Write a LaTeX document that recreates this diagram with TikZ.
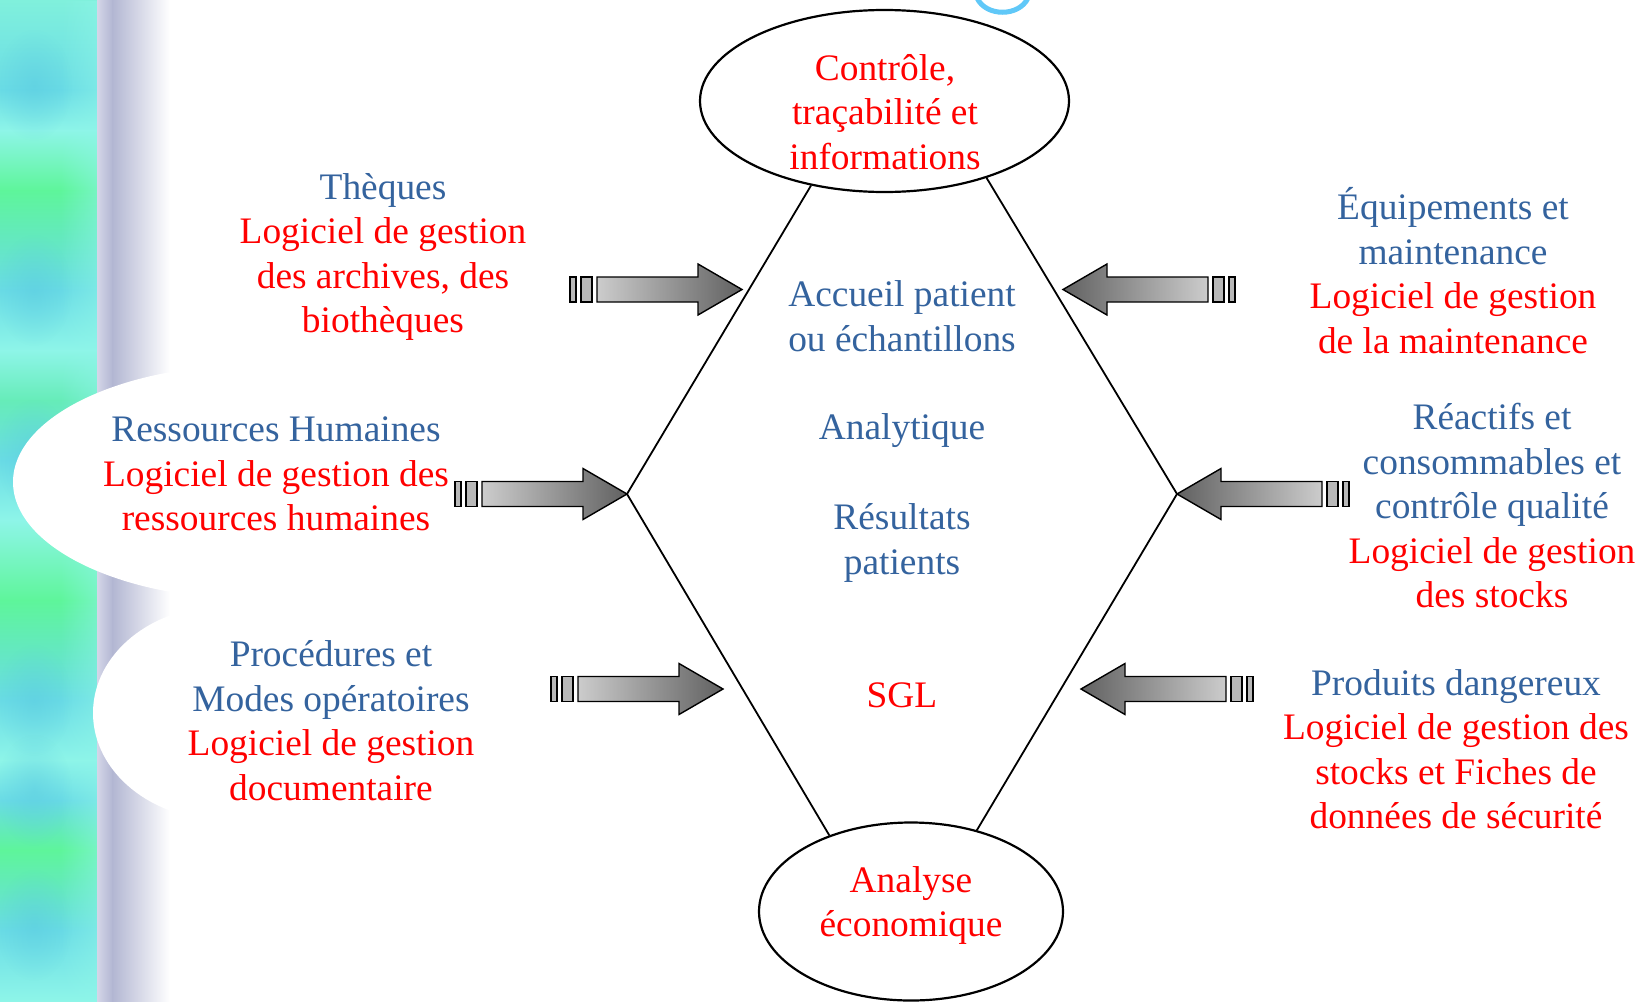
\documentclass[tikz,border=0pt]{standalone}
\usepackage{fontspec}
\setmainfont{Liberation Serif}
\usetikzlibrary{shapes.geometric,fadings}
\definecolor{tblue}{RGB}{52,99,158}
\definecolor{tred}{RGB}{255,0,0}
\definecolor{sA}{HTML}{80F0DC}
\definecolor{sB}{HTML}{6ADCE6}
\definecolor{sC}{HTML}{8EF5E8}
\definecolor{sD}{HTML}{5EF59A}
\definecolor{sE}{HTML}{66ECB8}
\definecolor{spot}{HTML}{58C8E0}
\definecolor{shadowA}{HTML}{D4D6E8}
\definecolor{shadowB}{HTML}{B2B6D2}
\definecolor{arcblue}{HTML}{60C8F8}
\tikzfading[name=blobfade, inner color=transparent!0, outer color=transparent!100]
\tikzset{
  txt/.style={align=center, inner sep=0pt, font=\fontsize{37.4}{44.5}\selectfont},
  bluetxt/.style={txt, text=tblue},
  redtxt/.style={txt, text=tred},
  oval/.style={ellipse, draw=black, line width=2.2pt, inner sep=0pt},
  hexline/.style={draw=black, line width=1.8pt},
  arrowR/.style={draw=black, line width=1.4pt, left color=black!20, right color=black!62},
  arrowL/.style={draw=black, line width=1.4pt, left color=black!62, right color=black!20},
  arrowtail/.style={draw=black, line width=1.4pt, fill=black!28},
}
\newcommand\fatarrow[5]{% name, x, y, dir, style
  \coordinate (#1) at (#2,#3);
  \begin{scope}[shift={(#2,#3)}, x=#4pt]
    \path[#5] (0,0) -- (-44,-25.5) -- (-44,-12.5) -- (-145,-12.5) -- (-145,12.5) -- (-44,12.5) -- (-44,25.5) -- cycle;
    \path[arrowtail] (-161,-12.5) rectangle (-150,12.5);
    \path[arrowtail] (-172,-12.5) rectangle (-166,12.5);
  \end{scope}}
\begin{document}
\begin{tikzpicture}[x=1pt,y=-1pt]
\useasboundingbox (0,0) rectangle (1648,1001);
\fill[white] (0,0) rectangle (1648,1001);
% left decorative strip
\fill[top color=sA, bottom color=sB] (0,0) rectangle (97,91);
\fill[top color=sB, bottom color=sC] (0,90) rectangle (97,131);
\fill[top color=sC, bottom color=sD] (0,130) rectangle (97,191);
\fill[top color=sD, bottom color=sB] (0,190) rectangle (97,291);
\fill[top color=sB, bottom color=sC] (0,290) rectangle (97,351);
\fill[top color=sC, bottom color=sE] (0,350) rectangle (97,401);
\fill[top color=sE, bottom color=sB] (0,400) rectangle (97,461);
\fill[top color=sB, bottom color=sC] (0,460) rectangle (97,521);
\fill[top color=sC, bottom color=sD] (0,520) rectangle (97,601);
\fill[top color=sD, bottom color=sB] (0,600) rectangle (97,701);
\fill[top color=sB, bottom color=sC] (0,700) rectangle (97,761);
\fill[top color=sC, bottom color=sB] (0,760) rectangle (97,801);
\fill[top color=sB, bottom color=sD] (0,800) rectangle (97,851);
\fill[top color=sD, bottom color=sB] (0,850) rectangle (97,931);
\fill[top color=sB, bottom color=sC] (0,930) rectangle (97,1001);
\foreach \yy in {85,290,455,700,790,925}
  \fill[spot, path fading=blobfade, opacity=0.45] (34,\yy) ellipse (38pt and 56pt);
\fill[sC, path fading=west, opacity=0.5] (60,0) rectangle (97,1001);
% shadow beside the strip
\fill[left color=shadowA, right color=shadowB] (97,0) rectangle (113,1001);
\fill[left color=shadowB, right color=white] (112,0) rectangle (170,1001);
% white swells
\fill[white] (253,482) ellipse (240pt and 117pt);
\fill[white] (224,713) ellipse (131pt and 107pt);
% title fragment
\draw[arcblue, line width=5pt, line cap=round] (977,-2) .. controls (986,17) and (1019,17) .. (1028,-2);
% ellipses
\node[oval, minimum width=369pt, minimum height=182pt] (top) at (884.5,101) {};
\node[oval, minimum width=304pt, minimum height=178pt] (bot) at (911,911.5) {};
\node[redtxt] (toptxt) at (885,112) {Contrôle,\\traçabilité et\\informations};
\node[redtxt] (bottxt) at (911,905.5) {Analyse\\économique};
% hexagon
\coordinate (L) at (627,494);
\coordinate (R) at (1177,494);
\draw[hexline] (top.229) -- (L) -- (bot.137);
\draw[hexline] (top.323) -- (R) -- (bot.51);
% centre texts
\node[bluetxt] (accueil) at (902,316) {Accueil patient\\ou échantillons};
\node[bluetxt] (analyt) at (902,431) {Analytique};
\node[bluetxt] (result) at (902,543) {Résultats\\patients};
\node[redtxt] (sgl) at (902,695) {SGL};
% side texts
\node[redtxt] (theq) at (383,257) {\textcolor{tblue}{Thèques}\\Logiciel de gestion\\des archives, des\\biothèques};
\node[redtxt] (rh) at (276,474) {\textcolor{tblue}{Ressources Humaines}\\Logiciel de gestion des\\ressources humaines};
\node[redtxt] (proc) at (331,720.5) {\textcolor{tblue}{Procédures et}\\\textcolor{tblue}{Modes opératoires}\\Logiciel de gestion\\documentaire};
\node[redtxt] (equip) at (1453,270.5) {\textcolor{tblue}{Équipements et}\\\textcolor{tblue}{maintenance}\\Logiciel de gestion\\de la maintenance};
\node[redtxt] (reac) at (1492,506) {\textcolor{tblue}{Réactifs et}\\\textcolor{tblue}{consommables et}\\\textcolor{tblue}{contrôle qualité}\\Logiciel de gestion\\des stocks};
\node[redtxt] (prod) at (1456,749) {\textcolor{tblue}{Produits dangereux}\\Logiciel de gestion des\\stocks et Fiches de\\données de sécurité};
% block arrows
\fatarrow{a1}{742}{289.5}{1}{arrowR}
\fatarrow{a2}{627}{494}{1}{arrowR}
\fatarrow{a3}{723}{689}{1}{arrowR}
\fatarrow{a4}{1063}{289.5}{-1}{arrowL}
\fatarrow{a5}{1177}{494}{-1}{arrowL}
\fatarrow{a6}{1081}{689}{-1}{arrowL}
\end{tikzpicture}
\end{document}
